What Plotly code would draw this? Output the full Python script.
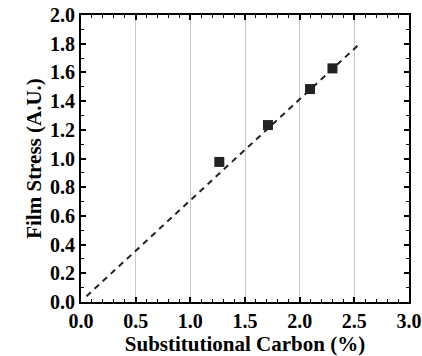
import plotly.graph_objects as go

carbon = [1.265, 1.71, 2.095, 2.30]
stress = [0.976, 1.233, 1.484, 1.628]
fit_x = [0.05, 2.55]
fit_y = [0.04, 1.80]
x_ticks = [0.0, 0.5, 1.0, 1.5, 2.0, 2.5, 3.0]
y_ticks = [0.0, 0.2, 0.4, 0.6, 0.8, 1.0, 1.2, 1.4, 1.6, 1.8, 2.0]

font_family = "Liberation Serif"

fig = go.Figure()
fig.add_trace(go.Scatter(x=fit_x, y=fit_y, mode="lines",
                         line=dict(color="#222", width=2, dash="6px,5px"),
                         showlegend=False, hoverinfo="skip"))
fig.add_trace(go.Scatter(x=carbon, y=stress, mode="markers",
                         marker=dict(symbol="square", size=10, color="#222",
                                     line=dict(width=0)),
                         showlegend=False))

axis_common = dict(
    showline=True, linecolor="black", linewidth=2, mirror="ticks",
    ticks="inside", ticklen=5, tickwidth=1.5, tickcolor="black",
    tickfont=dict(family=font_family, size=20, color="black", weight="bold"),
    zeroline=False, automargin=False,
)

fig.update_xaxes(
    range=[0, 3.0], tickvals=x_ticks,
    ticktext=[f"<b>{v:.1f}</b>" for v in x_ticks],
    showgrid=True, gridcolor="#c8c8c8", gridwidth=1,
    minor=dict(dtick=0.1, ticks="inside", ticklen=3, tickwidth=1.2,
               tickcolor="black", showgrid=False),
    title=dict(text="<b>Substitutional Carbon (%)</b>",
               font=dict(family=font_family, size=21, color="black", weight="bold"),
               standoff=0),
    **axis_common,
)
fig.update_yaxes(
    range=[0, 2.0], tickvals=y_ticks,
    ticktext=[f"<b>{v:.1f}</b>" for v in y_ticks],
    showgrid=False,
    minor=dict(dtick=0.1, ticks="inside", ticklen=3, tickwidth=1.2,
               tickcolor="black", showgrid=False),
    title=dict(text="<b>Film Stress (A.U.)</b>",
               font=dict(family=font_family, size=21, color="black", weight="bold"),
               standoff=3),
    **axis_common,
)

fig.update_layout(
    width=422, height=356,
    margin=dict(l=81, r=13, t=15, b=54),
    paper_bgcolor="white", plot_bgcolor="white",
    font=dict(family=font_family, color="black"),
)

fig.write_html("out.html")
